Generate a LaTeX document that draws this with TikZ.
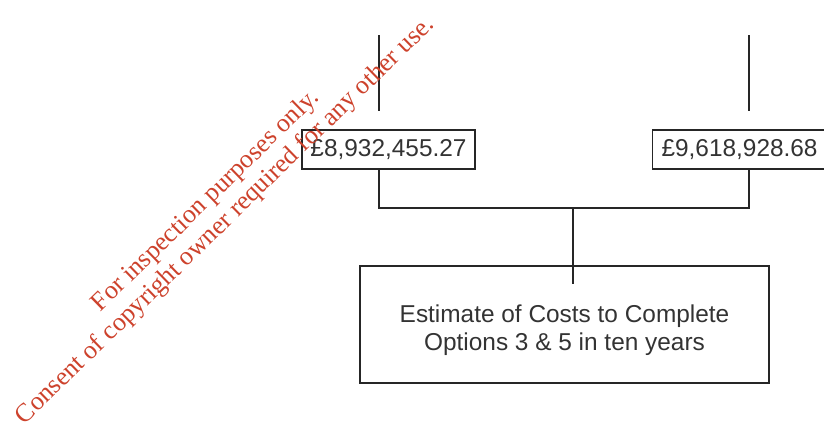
\documentclass[tikz,border=0pt]{standalone}
\usepackage{fontspec}
\setmainfont{Liberation Sans}
\newfontfamily\markfont{Liberation Serif}
\usepackage{tikz}
\usetikzlibrary{positioning, calc}
\definecolor{markred}{RGB}{205, 66, 44}

\begin{document}
\begin{tikzpicture}[
    x=1pt, y=-1pt,
    sumbox/.style={rectangle, draw=black!85, line width=1.1pt, inner sep=0pt, font=\fontsize{24.4}{28}\selectfont},
    costbox/.style={rectangle, draw=black!85, line width=1.1pt, align=center, font=\fontsize{24.4}{28}\selectfont},
    link/.style={black!85, line width=1.3pt},
    every node/.style={text=black!80}
]
\useasboundingbox (0, 0) rectangle (824, 424);
\clip (0, 0) rectangle (824, 424);

% option totals
\node[sumbox, minimum width=173pt, minimum height=39pt] (opt3) at (388.5, 149.5) {\raisebox{-1pt}{£8,932,455.27}};
\node[sumbox, minimum width=176pt, minimum height=39pt, anchor=west] (opt5) at (652, 149.5) {\hspace*{-2pt}\raisebox{-1pt}{£9,618,928.68}\hfill};
\node[costbox, minimum width=409pt, minimum height=117pt] (cost) at (564.5, 324.5) {\rule{0pt}{30pt}Estimate of Costs to Complete\\Options 3 \& 5 in ten years};

% lines coming in from above
\coordinate (in3a) at (379, 35);
\coordinate (in3b) at (379, 111);
\coordinate (in5a) at (749, 35);
\coordinate (in5b) at (749, 111);
\draw[link] (in3a) -- (in3b);
\draw[link] (in5a) -- (in5b);

% joining bracket
\coordinate (join) at (573, 208);
\draw[link] (opt3.south -| in3a) |- (join) -| (opt5.south -| in5a);
\draw[link] (join) -- (join |- cost.north) -- ++(0, 19);

% watermark
\node[text=markred, rotate=44.2, align=center, font=\markfont\fontsize{26}{28}\selectfont] (mark) at (216, 211)
    {For inspection purposes only.\\Consent of copyright owner required for any other use.};

\end{tikzpicture}
\end{document}
